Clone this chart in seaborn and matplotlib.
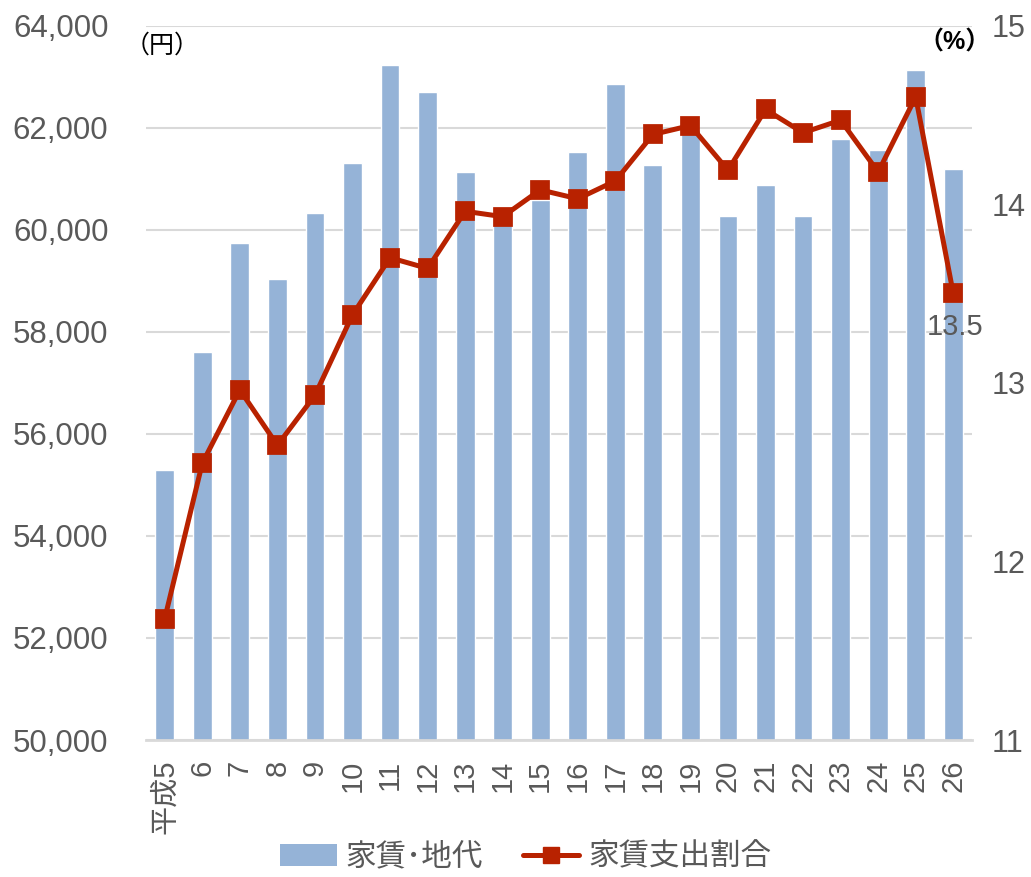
import numpy as np
import pandas as pd
import matplotlib
matplotlib.use("Agg")
import matplotlib.pyplot as plt
import seaborn as sns
from matplotlib.patches import Patch
from matplotlib.lines import Line2D
from matplotlib.ticker import FuncFormatter

# 年次（平成）
years = ["平成5", "6", "7", "8", "9", "10", "11", "12", "13", "14", "15",
         "16", "17", "18", "19", "20", "21", "22", "23", "24", "25", "26"]
# 家賃・地代（円）
rent = [55290, 57610, 59740, 59030, 60320, 61300, 63230, 62690, 61130, 60220, 60590,
        61530, 62850, 61270, 61950, 60270, 60870, 60270, 61780, 61570, 63130, 61190]
# 家賃支出割合（%）
ratio = [11.68, 12.55, 12.96, 12.65, 12.93, 13.38, 13.70, 13.64, 13.96, 13.93, 14.08,
         14.03, 14.13, 14.39, 14.44, 14.19, 14.53, 14.40, 14.47, 14.18, 14.60, 13.5]

left_ticks = [50000, 52000, 54000, 56000, 58000, 60000, 62000, 64000]
right_ticks = [11, 12, 13, 14, 15]

bar_color = "#95B3D7"
line_color = "#B82200"
text_gray = "#595959"
grid_gray = "#D9D9D9"

sns.set_theme(style="white")
plt.rcParams["font.family"] = ["Liberation Sans", "Noto Sans CJK JP", "DejaVu Sans"]

df = pd.DataFrame({"year": years, "rent": rent, "ratio": ratio})

fig = plt.figure(figsize=(10.31, 8.77), dpi=100)
ax = fig.add_axes([0.1416, 0.1562, 0.8012, 0.8147])

sns.barplot(data=df, x="year", y="rent", order=years, color=bar_color,
            width=0.5, saturation=1, ax=ax, zorder=2)
ax.set_ylim(50000, 64000)
ax.set_yticks(left_ticks)
ax.yaxis.set_major_formatter(FuncFormatter(lambda v, p: f"{int(v):,}"))
ax.set_xlim(-0.5, len(years) - 0.5)
ax.set_xlabel("")
ax.set_ylabel("")
ax.grid(axis="y", color=grid_gray, linewidth=1.5, zorder=0)
ax.set_axisbelow(True)
for side in ["left", "right", "top"]:
    ax.spines[side].set_visible(False)
ax.spines["bottom"].set_color(grid_gray)
ax.spines["bottom"].set_linewidth(2)
ax.tick_params(axis="y", length=0, labelsize=22.5, labelcolor=text_gray, pad=27)
ax.tick_params(axis="x", length=0, labelsize=21, labelcolor=text_gray, pad=14,
               labelrotation=90)

ax2 = ax.twinx()
sns.pointplot(data=df, x="year", y="ratio", order=years, color=line_color,
              markers="s", ax=ax2, markersize=11, linewidth=3.6, errorbar=None)
ax2.set_ylim(11, 15)
ax2.set_yticks(right_ticks)
ax2.set_xlim(-0.5, len(years) - 0.5)
ax2.set_ylabel("")
ax2.set_xlabel("")
for side in ["left", "right", "top", "bottom"]:
    ax2.spines[side].set_visible(False)
ax2.tick_params(axis="y", length=0, labelsize=22, labelcolor=text_gray, pad=14)
ax2.grid(False)

# 最新年の値ラベル
last = len(years) - 1
ax2.annotate(f"{ratio[last]:.1f}", xy=(last, ratio[last]), xytext=(1, -24),
             textcoords="offset points", ha="center", va="center",
             fontsize=21, color=text_gray)

# 単位
fig.text(0.121, 0.948, "（円）", fontsize=18, color="black", ha="left", va="center")
fig.text(0.961, 0.951, "（%）", fontsize=18, color="black", ha="right", va="center",
         fontweight="bold")

handles = [
    Patch(facecolor=bar_color, edgecolor="none", label="家賃･地代"),
    Line2D([0], [0], color=line_color, linewidth=3.6, marker="s", markersize=11,
           label="家賃支出割合"),
]
leg = fig.legend(handles=handles, loc="center", bbox_to_anchor=(0.51, 0.022), ncol=2,
                 frameon=False, fontsize=22, handlelength=1.85, columnspacing=1.3,
                 handletextpad=0.3)
for t in leg.get_texts():
    t.set_color(text_gray)

fig.savefig("out.png", dpi=100)
